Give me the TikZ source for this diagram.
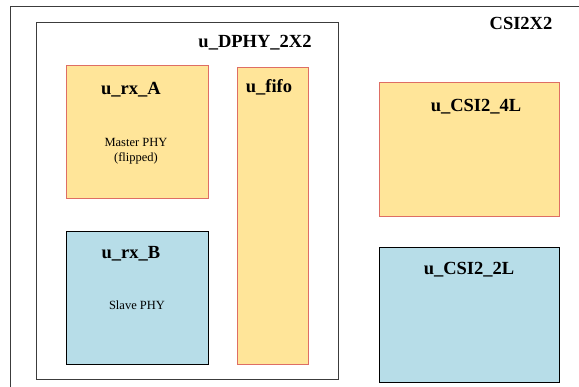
\documentclass[tikz,border=0pt]{standalone}
\usepackage{fontspec}
\setmainfont{Liberation Serif}
\usepackage{tikz}

\definecolor{fifoyellow}{RGB}{255,229,153}
\definecolor{phyblue}{RGB}{183,221,232}
\definecolor{edgered}{RGB}{222,110,100}
\definecolor{edgegray}{RGB}{60,60,60}

\tikzset{
	block/.style={draw, line width=0.9pt, anchor=north west, inner sep=0pt},
	yellowblock/.style={block, fill=fifoyellow, draw=edgered},
	blueblock/.style={block, fill=phyblue, draw=black},
	frameblock/.style={block, draw=edgegray, fill=none},
	title/.style={font=\rmfamily\fontsize{18.5}{20}\selectfont\bfseries},
	note/.style={font=\rmfamily\fontsize{12.5}{15}\selectfont, align=center}
}

\begin{document}
\begin{tikzpicture}[x=1pt,y=-1pt]
\useasboundingbox (0,0) rectangle (579,387);
\clip (0,0) rectangle (579,387);

% top level
\node[frameblock, minimum width=590pt, minimum height=400pt] (csi) at (10,6) {};
\node[title] (csiname) at (521,23) {CSI2X2};

% dphy wrapper
\node[frameblock, minimum width=302pt, minimum height=357pt] (dphy) at (36,22) {};
\node[title] (dphyname) at (255,43) {u\_DPHY\_2X2};

\node[yellowblock, minimum width=142pt, minimum height=133pt] (rxA) at (66,65) {};
\node[title] (rxAname) at (131,90) {u\_rx\_A};
\node[note] (rxAnote) at (136,151) {Master PHY\\(flipped)};

\node[blueblock, minimum width=142pt, minimum height=133pt] (rxB) at (66,231) {};
\node[title] (rxBname) at (131,254) {u\_rx\_B};
\node[note] (rxBnote) at (137,305) {Slave PHY};

\node[yellowblock, minimum width=71pt, minimum height=297pt] (fifo) at (237,67) {};
\node[title] (fifoname) at (269,87) {u\_fifo};

% csi2 controllers
\node[yellowblock, minimum width=180pt, minimum height=134pt] (csi4L) at (379,82) {};
\node[title] (csi4Lname) at (476,107) {u\_CSI2\_4L};

\node[blueblock, minimum width=180pt, minimum height=135pt] (csi2L) at (379,247) {};
\node[title] (csi2Lname) at (469,270) {u\_CSI2\_2L};

\end{tikzpicture}
\end{document}
